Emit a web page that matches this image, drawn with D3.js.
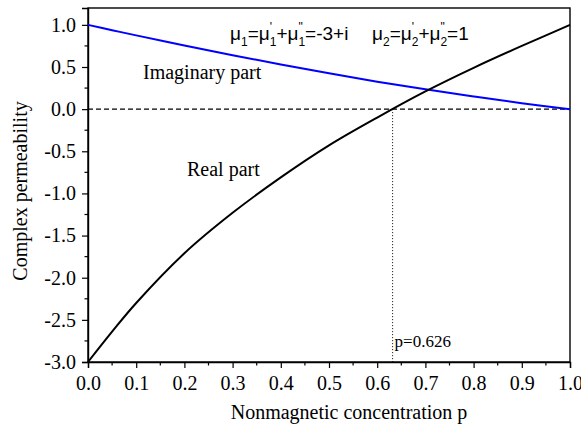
<!DOCTYPE html>
<html>
<head>
<meta charset="utf-8">
<script src="https://cdn.jsdelivr.net/npm/d3@7"></script>
<style>
  html, body { margin: 0; padding: 0; background: #fff; }
  svg { display: block; }
</style>
</head>
<body>
<svg id="chart" width="581" height="428"></svg>
<script>
// ---- data ----
const pValues  = [0, 0.05, 0.1, 0.2, 0.3, 0.4, 0.5, 0.6, 0.7, 0.8, 0.9, 1.0];
const realPart = [-3.0, -2.64, -2.30, -1.71, -1.23, -0.81, -0.43, -0.10, 0.21, 0.49, 0.75, 1.0];
const imagPart = [1.0, 0.937, 0.875, 0.755, 0.64, 0.53, 0.425, 0.325, 0.235, 0.15, 0.07, 0.0];
const xTicks = [0, 0.1, 0.2, 0.3, 0.4, 0.5, 0.6, 0.7, 0.8, 0.9, 1.0];
const yTicks = [-3.0, -2.5, -2.0, -1.5, -1.0, -0.5, 0.0, 0.5, 1.0];
const crossP = 0.632;
const crossLabel = "p=0.626";
const xDomain = [0, 1];
const yDomain = [-3, 1.2];

const W = 581, H = 428;
const margin = {left: 88, right: 11, top: 8, bottom: 66};
const svg = d3.select("#chart");
const serif = "'Liberation Serif', 'Times New Roman', serif";
const sans = "'Liberation Sans', Arial, sans-serif";

const x = d3.scaleLinear().domain(xDomain).range([margin.left, W - margin.right]);
const y = d3.scaleLinear().domain(yDomain).range([H - margin.bottom, margin.top]);

// frame
svg.append("rect")
  .attr("x", x(0)).attr("y", y(yDomain[1]))
  .attr("width", x(1) - x(0)).attr("height", y(yDomain[0]) - y(yDomain[1]))
  .attr("fill", "none").attr("stroke", "#000").attr("stroke-width", 1.4);

// x axis
const xMinor = d3.range(0, 1.0001, 0.05).filter(v => Math.abs(Math.round(v*10) - v*10) > 1e-6);
const gx = svg.append("g").attr("transform", `translate(0,${y(yDomain[0])})`);
gx.call(d3.axisBottom(x).tickValues(xTicks).tickFormat(d3.format(".1f")).tickSize(6).tickPadding(8));
gx.selectAll(".minor").data(xMinor).enter().append("line")
  .attr("x1", d => x(d)).attr("x2", d => x(d)).attr("y1", 0).attr("y2", 3.5)
  .attr("stroke", "#000").attr("stroke-width", 1.2);

// y axis
const yMinor = d3.range(-2.75, 1.0, 0.5);
const gy = svg.append("g").attr("transform", `translate(${x(0)},0)`);
gy.call(d3.axisLeft(y).tickValues(yTicks).tickFormat(d3.format(".1f")).tickSize(6).tickPadding(6));
gy.selectAll(".minor").data(yMinor).enter().append("line")
  .attr("y1", d => y(d)).attr("y2", d => y(d)).attr("x1", 0).attr("x2", -3.5)
  .attr("stroke", "#000").attr("stroke-width", 1.2);

[gx, gy].forEach(g => {
  g.attr("font-family", serif).attr("font-size", 20);
  g.select(".domain").attr("stroke", "#000").attr("stroke-width", 1.4);
  g.selectAll(".tick line").attr("stroke", "#000").attr("stroke-width", 1.2);
  g.selectAll(".tick text").style("font-family", serif).style("font-size", "20px").attr("fill", "#000");
});
gy.selectAll(".tick text").text(d => d3.format(".1f")(d).replace("−", "-"));

// zero dashed line
svg.append("line")
  .attr("x1", x(0)).attr("x2", x(1)).attr("y1", y(0)).attr("y2", y(0))
  .attr("stroke", "#000").attr("stroke-width", 1.2).attr("stroke-dasharray", "5,3");

// dotted vertical line at crossing
svg.append("line")
  .attr("x1", x(crossP)).attr("x2", x(crossP)).attr("y1", y(0)).attr("y2", y(yDomain[0]))
  .attr("stroke", "#000").attr("stroke-width", 1).attr("stroke-dasharray", "1,2");

// curves
const line = d3.line().x((d, i) => x(pValues[i])).y(d => y(d)).curve(d3.curveCatmullRom.alpha(0.5));
svg.append("path").datum(imagPart).attr("d", line)
  .attr("fill", "none").attr("stroke", "#0000ff").attr("stroke-width", 2);
svg.append("path").datum(realPart).attr("d", line)
  .attr("fill", "none").attr("stroke", "#000").attr("stroke-width", 2);

// annotations
svg.append("text").attr("x", 143).attr("y", 79).style("font-family", serif).style("font-size", "20px")
  .text("Imaginary part");
svg.append("text").attr("x", 187).attr("y", 176).style("font-family", serif).style("font-size", "20px")
  .text("Real part");
svg.append("text").attr("x", x(crossP) + 2).attr("y", 347).style("font-family", serif).style("font-size", "17px")
  .text(crossLabel);

// axis titles
svg.append("text").attr("x", 349).attr("y", 419).attr("text-anchor", "middle")
  .style("font-family", serif).style("font-size", "20px").text("Nonmagnetic concentration p");
svg.append("text").attr("transform", "translate(27,191) rotate(-90)").attr("text-anchor", "middle")
  .style("font-family", serif).style("font-size", "20px").text("Complex permeability");

// formula labels with stacked sub/superscripts
function measure(txt, size) {
  const t = svg.append("text").style("font-family", sans).style("font-size", size + "px").text(txt);
  const w = t.node().getComputedTextLength();
  t.remove();
  return w;
}
function formula(x0, baseline, parts) {
  let cx = x0;
  const g = svg.append("g");
  const big = 19, small = 12;
  parts.forEach(p => {
    g.append("text").attr("x", cx).attr("y", baseline).style("font-family", sans).style("font-size", big + "px").text(p.t);
    cx += measure(p.t, big);
    let adv = 0;
    if (p.sub) {
      g.append("text").attr("x", cx).attr("y", baseline + 6).style("font-family", sans).style("font-size", small + "px").text(p.sub);
      adv = Math.max(adv, measure(p.sub, small));
    }
    if (p.sup) {
      g.append("text").attr("x", cx).attr("y", baseline - 9).style("font-family", sans).style("font-size", small + "px").text(p.sup);
      adv = Math.max(adv, measure(p.sup, small));
    }
    cx += adv;
  });
}
formula(230, 40, [
  {t: "μ", sub: "1"}, {t: "=μ", sub: "1", sup: "'"}, {t: "+μ", sub: "1", sup: "\""}, {t: "=-3+i"}
]);
formula(372, 40, [
  {t: "μ", sub: "2"}, {t: "=μ", sub: "2", sup: "'"}, {t: "+μ", sub: "2", sup: "\""}, {t: "=1"}
]);
</script>
</body>
</html>
